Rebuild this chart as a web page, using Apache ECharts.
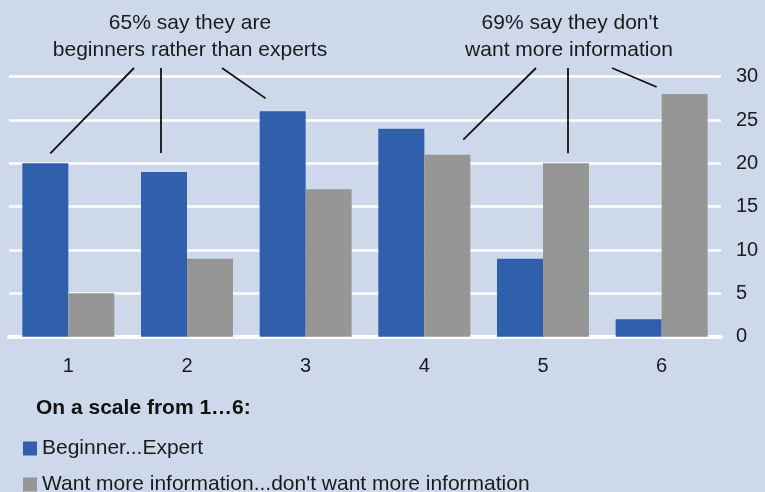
<!DOCTYPE html>
<html>
<head>
<meta charset="utf-8">
<script src="https://cdn.jsdelivr.net/npm/echarts@6/dist/echarts.min.js"></script>
<style>
  html, body { margin: 0; padding: 0; background: #cdd8ea; }
  #chart { width: 765px; height: 492px; }
</style>
</head>
<body>
<div id="chart"></div>
<script>
// Survey answers on a 1..6 scale
const categories = ['1', '2', '3', '4', '5', '6'];
const beginnerExpert = [20, 19, 26, 24, 9, 2];
const wantInfo = [5, 9, 17, 21, 20, 28];
const yTicks = [0, 5, 10, 15, 20, 25, 30];

const seriesNames = ['Beginner...Expert', "Want more information...don't want more information"];
const BLUE = '#305fab';
const GREY = '#979696';
const BAR_W = 46;
const FONT = 'Liberation Sans, Arial, sans-serif';

const chart = echarts.init(document.getElementById('chart'), null, { renderer: 'canvas' });

// one legend block per series, stacked under the chart
function legendRow(name, top) {
  return {
    orient: 'horizontal',
    left: 23,
    top: top,
    padding: 0,
    itemWidth: 14,
    itemHeight: 14,
    icon: 'rect',
    textStyle: { color: '#1a1a1a', fontSize: 21, fontFamily: FONT, padding: [0, 0, 0, 0] },
    data: [name]
  };
}

const option = {
  backgroundColor: '#cdd8ea',
  animation: false,
  grid: { left: 9, right: 44, top: 76.7, bottom: 155.3, containLabel: false },
  xAxis: {
    type: 'category',
    data: categories,
    axisLine: { show: true, lineStyle: { color: '#ffffff', width: 4 } },
    axisTick: { show: false },
    axisLabel: { color: '#1a1a1a', fontSize: 20, fontFamily: FONT, margin: 20 }
  },
  yAxis: {
    type: 'value',
    position: 'right',
    min: yTicks[0],
    max: yTicks[yTicks.length - 1],
    interval: 5,
    axisLine: { show: false },
    axisTick: { show: false },
    splitLine: { lineStyle: { color: '#ffffff', width: 2.5 } },
    axisLabel: { color: '#1a1a1a', fontSize: 20, fontFamily: FONT, margin: 15 }
  },
  legend: [legendRow(seriesNames[0], 438), legendRow(seriesNames[1], 474)],
  series: [
    {
      name: seriesNames[0],
      type: 'bar',
      data: beginnerExpert,
      barWidth: BAR_W,
      barGap: '0%',
      itemStyle: { color: BLUE }
    },
    {
      name: seriesNames[1],
      type: 'bar',
      data: wantInfo,
      barWidth: BAR_W,
      barGap: '0%',
      itemStyle: { color: GREY }
    }
  ]
};

chart.setOption(option);

// Callout lines: fixed start under each caption, end just off the top of a bar
const callouts = [
  { from: [134, 68], series: 0, idx: 0, off: [5, -10] },
  { from: [161, 68], series: 0, idx: 1, off: [-3, -19] },
  { from: [222, 68], series: 0, idx: 2, off: [-17, -13] },
  { from: [536, 68], series: 1, idx: 3, off: [16, -15] },
  { from: [568, 68], series: 1, idx: 4, off: [2, -10] },
  { from: [612, 68], series: 1, idx: 5, off: [-28, -7] }
];
const seriesData = [beginnerExpert, wantInfo];

const graphics = [];
callouts.forEach(c => {
  const p = chart.convertToPixel({ xAxisIndex: 0, yAxisIndex: 0 }, [c.idx, seriesData[c.series][c.idx]]);
  const cx = p[0] + (c.series === 0 ? -BAR_W / 2 : BAR_W / 2);
  graphics.push({
    type: 'line',
    shape: { x1: c.from[0], y1: c.from[1], x2: cx + c.off[0], y2: p[1] + c.off[1] },
    style: { stroke: '#111111', lineWidth: 1.8 },
    z: 10
  });
});

const captionStyle = { fill: '#1a1a1a', fontSize: 21, fontFamily: FONT, textAlign: 'center', textVerticalAlign: 'middle' };
[
  ['65% say they are', 190, 23],
  ['beginners rather than experts', 190, 50],
  ["69% say they don't", 570, 23],
  ['want more information', 569, 50]
].forEach(t => {
  graphics.push({ type: 'text', x: t[1], y: t[2], style: Object.assign({ text: t[0] }, captionStyle), z: 10 });
});

graphics.push({
  type: 'text', x: 36, y: 408,
  style: { text: 'On a scale from 1…6:', fill: '#111111', fontSize: 21, fontWeight: 'bold', fontFamily: FONT, textVerticalAlign: 'middle' }
});

chart.setOption({ graphic: graphics });
</script>
</body>
</html>
